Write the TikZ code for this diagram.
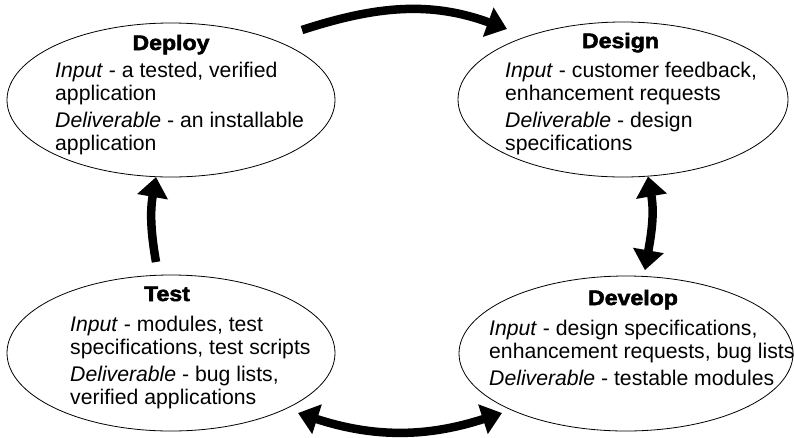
\documentclass[tikz,border=0pt]{standalone}
\usepackage{fontspec}
\setmainfont{Liberation Sans}
\newfontfamily\titlefont{Liberation Sans Bold}[FakeBold=2.5,FakeStretch=1.1]
\usetikzlibrary{arrows.meta,shapes.geometric}
\begin{document}
\begin{tikzpicture}[x=1pt,y=-1pt,
  phase/.style={ellipse, draw, line width=0.8pt, inner sep=0pt},
  ttl/.style={anchor=base, inner sep=0pt, font=\titlefont\fontsize{21}{22}\selectfont},
  body/.style={anchor=north west, inner sep=0pt, align=left, font=\fontsize{21.2}{22.7}\selectfont},
  flow/.style={line width=8.5pt, -{Triangle[length=20pt,width=30pt]}},
  flowtwo/.style={line width=8.5pt, {Triangle[length=20pt,width=30pt]}-{Triangle[length=20pt,width=30pt]}}]
\useasboundingbox (0,0) rectangle (794,437);

\node[phase, minimum width=328pt, minimum height=154pt] (deploy) at (171,100) {};
\node[phase, minimum width=330pt, minimum height=155pt] (design) at (623,99.5) {};
\node[phase, minimum width=328pt, minimum height=156pt] (test) at (171,353) {};
\node[phase, minimum width=334pt, minimum height=155pt] (develop) at (626,353.5) {};

\node[ttl] (deployT) at (171,50) {Deploy};
\node[ttl] (designT) at (620.5,48) {Design};
\node[ttl] (testT) at (167,301) {Test};
\node[ttl] (developT) at (633,305) {Develop};

\node[body] (deployB) at (55,62) {\textit{Input} - a tested, verified\\application\\[4.5pt]\textit{Deliverable} - an installable\\application};
\node[body] (designB) at (505,62) {\textit{Input} - customer feedback,\\enhancement requests\\[4.5pt]\textit{Deliverable} - design\\specifications};
\node[body] (testB) at (70,316) {\textit{Input} - modules, test\\specifications, test scripts\\[4.5pt]\textit{Deliverable} - bug lists,\\verified applications};
\node[body] (developB) at (489,320) {\textit{Input} - design specifications,\\enhancement requests, bug lists\\[4.5pt]\textit{Deliverable} - testable modules};

\coordinate (topS) at (302,30);
\coordinate (topE) at (507,29);
\coordinate (leftS) at (156,262);
\coordinate (botL) at (298,413);
\coordinate (botR) at (502,413);

\draw[flow] (topS) to[out=18,in=160] (topE);
\draw[flow] (leftS) to[out=100,in=-100] (deploy.-101);
\draw[flowtwo, shorten >=6pt] (design.-72) to[out=-80,in=80] (develop.77);
\draw[flowtwo] (botL) to[out=-18,in=-162] (botR);
\end{tikzpicture}
\end{document}
